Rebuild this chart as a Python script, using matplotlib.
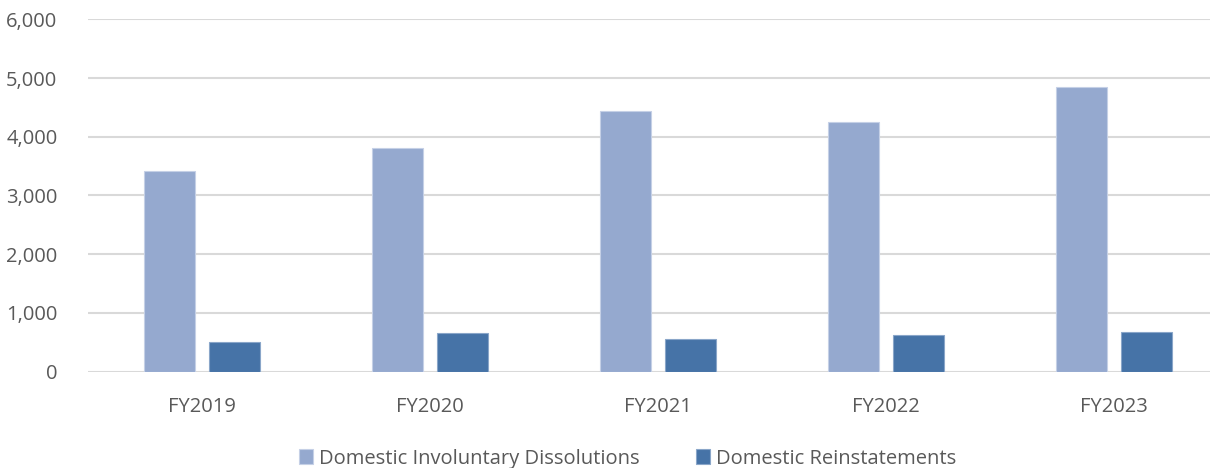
import matplotlib.pyplot as plt
import numpy as np

years = ["FY2019", "FY2020", "FY2021", "FY2022", "FY2023"]
dissolutions = [3420, 3805, 4445, 4250, 4850]
reinstatements = [500, 655, 557, 625, 672]
series_names = ["Domestic Involuntary Dissolutions", "Domestic Reinstatements"]

plt.rcParams['font.family'] = ['Open Sans', 'DejaVu Sans']
text_color = '#595959'

fig = plt.figure(figsize=(12.19, 4.68), dpi=100)
ax = fig.add_axes([0.0722, 0.2058, 0.9204, 0.753])

x = np.arange(len(years))
width = 0.224
offset = 0.1425

ax.bar(x - offset, dissolutions, width, color='#95a9cf', edgecolor='#c5d0e6',
       linewidth=0.8, label=series_names[0], zorder=3)
ax.bar(x + offset, reinstatements, width, color='#4673a7', edgecolor='#8aa6c9',
       linewidth=0.8, label=series_names[1], zorder=3)

ax.set_xlim(-0.5, 4.42)
ax.set_ylim(0, 6000)
ax.set_yticks(range(0, 6001, 1000))
ax.set_yticklabels([f"{v:,}" for v in range(0, 6001, 1000)])
ax.set_xticks(x, years)

ax.grid(axis='y', color='#d9d9d9', linewidth=1.5, zorder=0)
ax.set_axisbelow(True)
for s in ax.spines.values():
    s.set_visible(False)
ax.tick_params(axis='both', length=0, labelsize=14.5, labelcolor=text_color)
ax.tick_params(axis='y', pad=22)
ax.tick_params(axis='x', pad=18)

fig.legend(loc='lower center', bbox_to_anchor=(0.515, -0.04), ncols=2,
           frameon=False, fontsize=14.5, labelcolor=text_color,
           handlelength=0.7, handleheight=0.7, handletextpad=0.3,
           columnspacing=2.8)

plt.savefig("out.png")
